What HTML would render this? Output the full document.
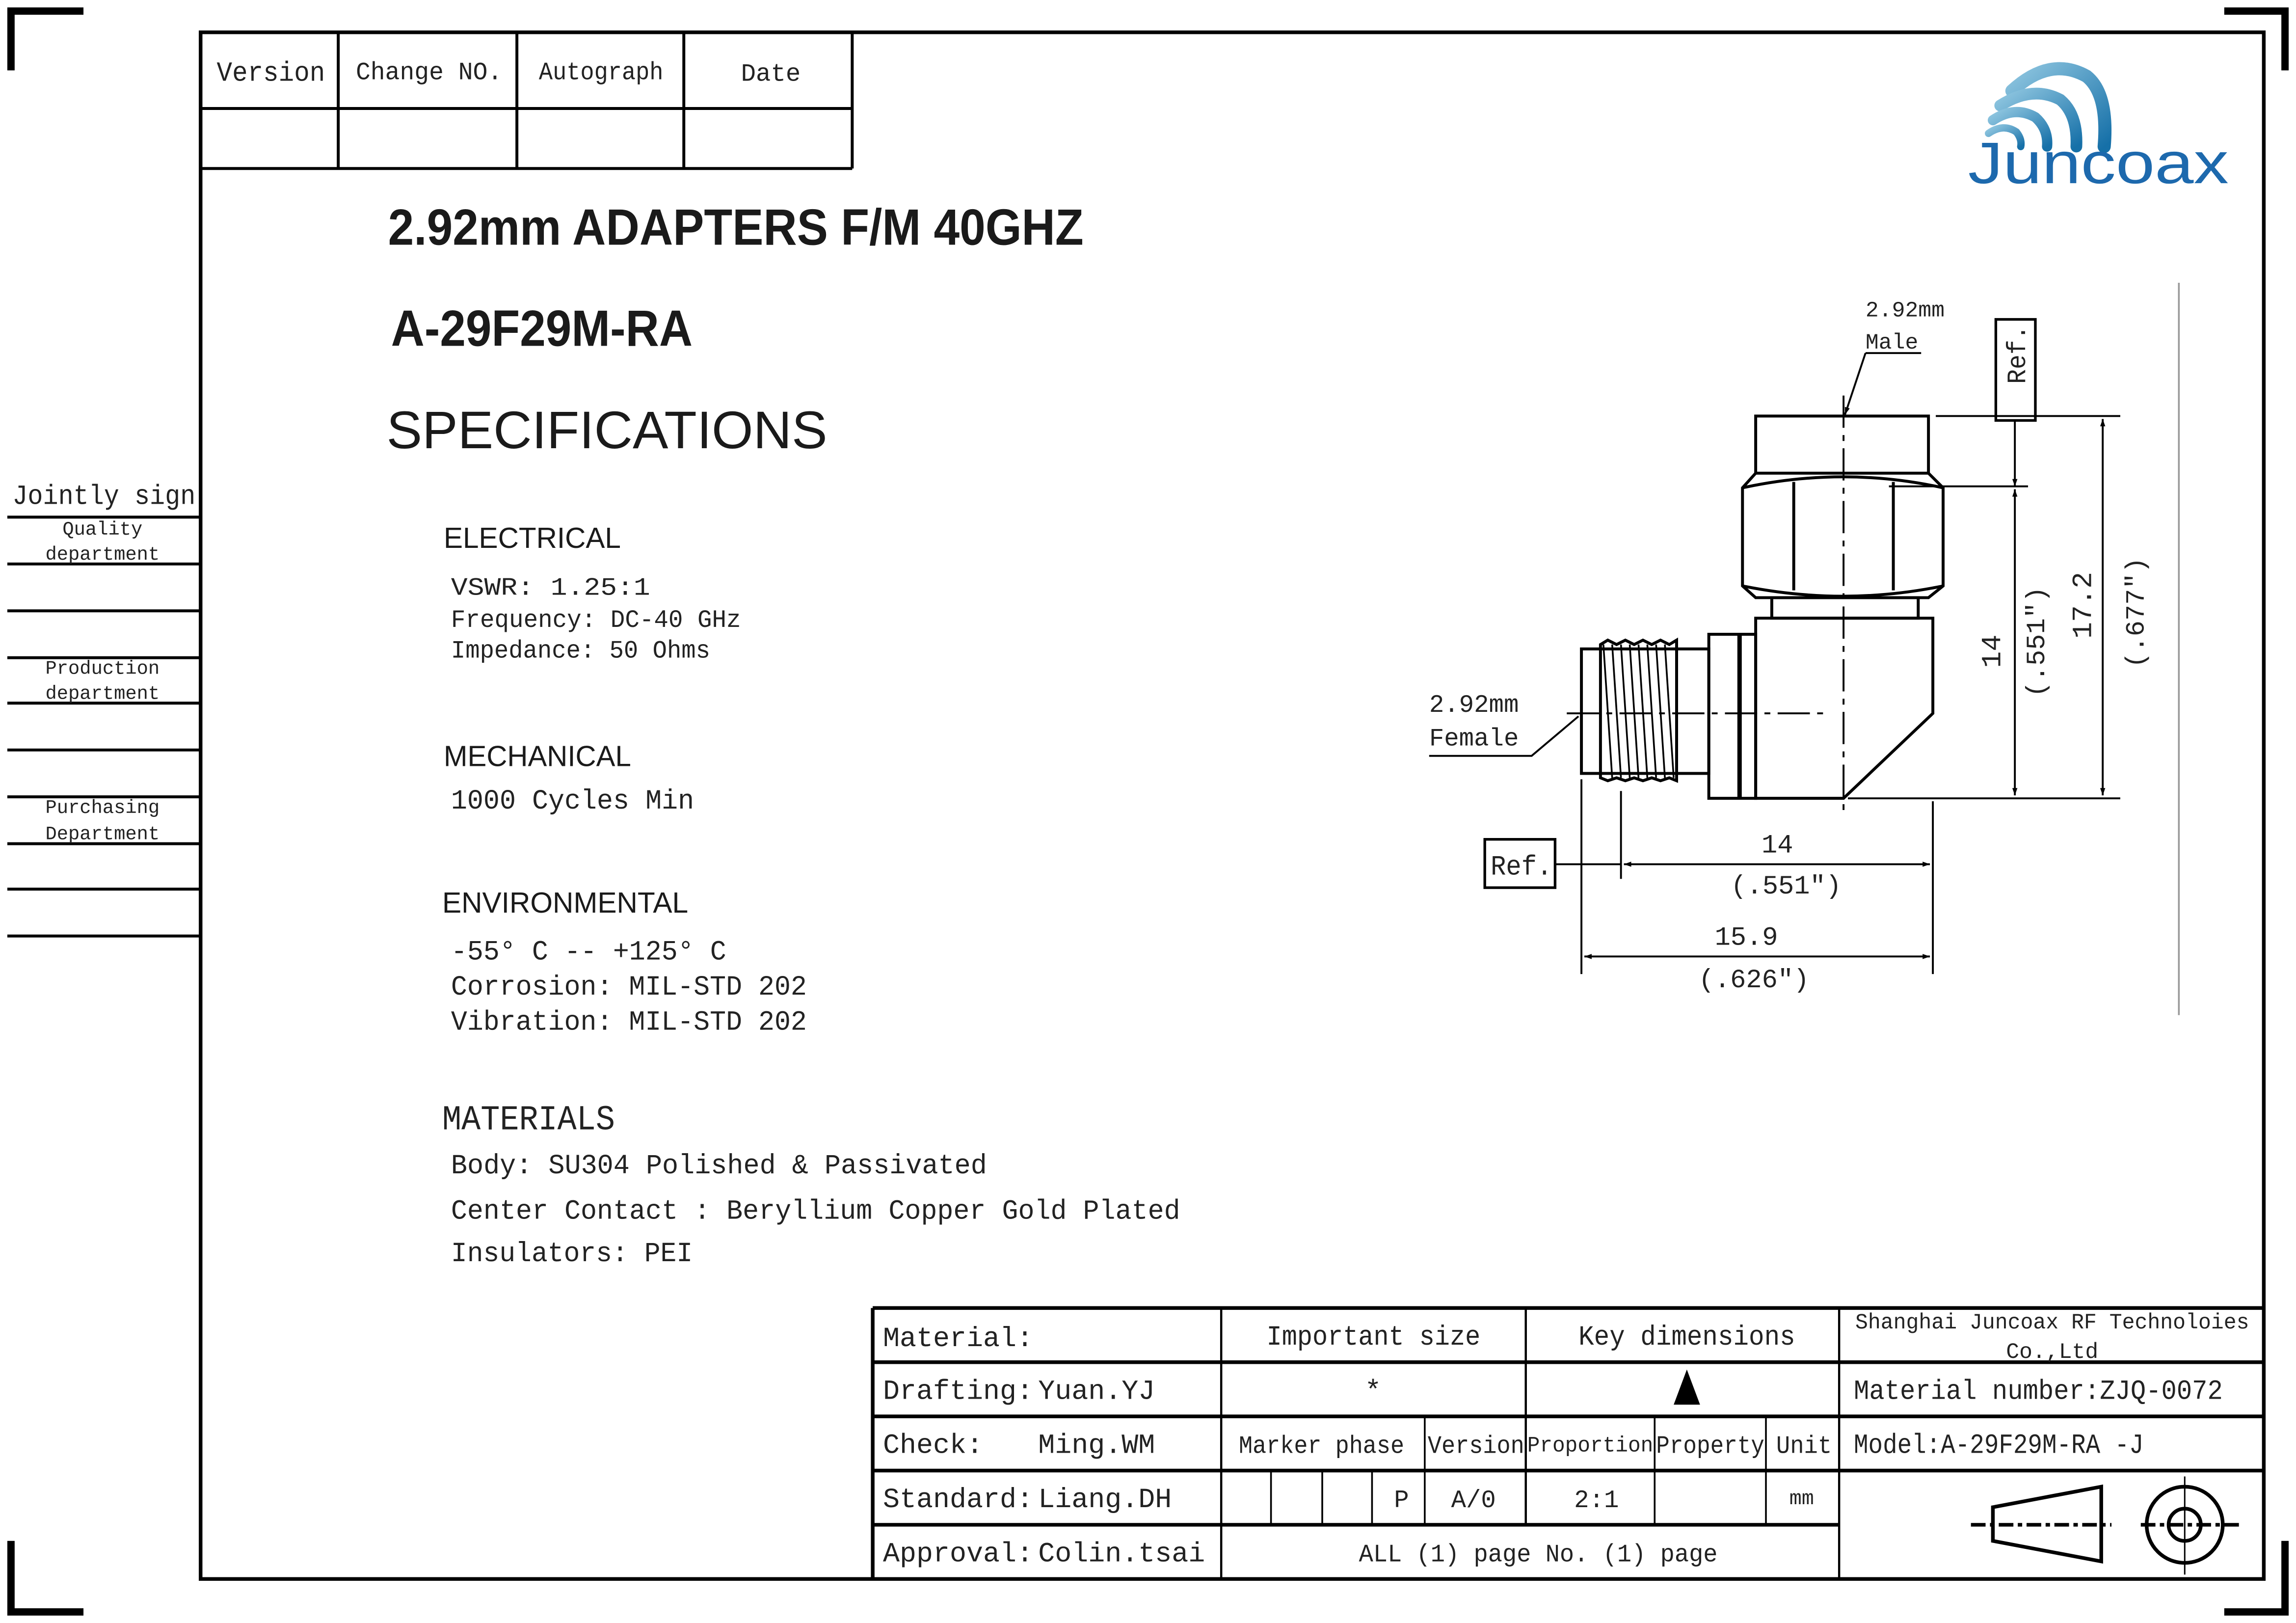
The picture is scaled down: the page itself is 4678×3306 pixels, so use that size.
<!DOCTYPE html>
<html><head><meta charset="utf-8"><style>
html,body{margin:0;padding:0;background:#fff}
svg{display:block}
.m{font-family:"Liberation Mono","Noto Serif CJK SC",monospace;fill:#222}
.s{font-family:"Liberation Sans","DejaVu Sans",sans-serif;fill:#1a1a1a}
</style></head><body>
<svg width="4678" height="3306" viewBox="0 0 1568 1108" xmlns="http://www.w3.org/2000/svg">
<rect width="1568" height="1108" fill="#fff"/>
<defs>
<marker id="a" viewBox="0 0 10 10" refX="10" refY="5" markerWidth="14" markerHeight="5" markerUnits="userSpaceOnUse" orient="auto-start-reverse"><path d="M0,1.5 L10,5 L0,8.5z" fill="#000"/></marker>
<linearGradient id="g" x1="0" y1="0" x2="1" y2="1"><stop offset="0" stop-color="#8fc6e0"/><stop offset="1" stop-color="#1670a8"/></linearGradient>
</defs>
<g stroke="#000" stroke-width="5" fill="none">
<path d="M57,7.5 H7.5 V48"/><path d="M1519,7.5 H1560.5 V48"/>
<path d="M7.5,1052 V1100.5 H57"/><path d="M1560.5,1052 V1100.5 H1519"/>
</g>
<rect x="137" y="22" width="1409" height="1056" fill="none" stroke="#000" stroke-width="2.5"/>
<g stroke="#000" stroke-width="2" fill="none">
<path d="M137,74 H582 M137,115 H582 M582,22 V115 M231,22 V115 M353,22 V115 M467,22 V115"/>
</g>
<g class="m" font-size="17">
<text x="148" y="55" font-size="19" textLength="74" lengthAdjust="spacingAndGlyphs">Version</text>
<text x="243" y="54" textLength="100" lengthAdjust="spacingAndGlyphs">Change   NO.</text>
<text x="368" y="54" textLength="85" lengthAdjust="spacingAndGlyphs">Autograph</text>
<text x="506" y="55">Date</text>
</g>
<!-- logo -->
<g fill="none" stroke="url(#g)" stroke-linecap="round">
<path d="M1374,62 Q1400,38 1425,52 Q1440,64 1437,100" stroke-width="9"/>
<path d="M1366,72 Q1388,58 1407,68 Q1419,78 1418,100" stroke-width="8"/>
<path d="M1361,82 Q1376,72 1390,80 Q1399,88 1398,100" stroke-width="7"/>
<path d="M1358,91 Q1368,84 1377,90 Q1381,95 1380,100" stroke-width="5"/>
</g>
<text x="1344" y="125" font-family="Liberation Sans,sans-serif" font-size="40" fill="#1d69ad" textLength="178" lengthAdjust="spacingAndGlyphs">Juncoax</text>
<g class="s" font-weight="bold">
<text x="265" y="167" font-size="35" textLength="475" lengthAdjust="spacingAndGlyphs">2.92mm ADAPTERS  F/M 40GHZ</text>
<text x="267" y="236" font-size="35" textLength="206" lengthAdjust="spacingAndGlyphs">A-29F29M-RA</text>
</g>
<text class="s" x="264" y="306" font-size="36" textLength="301" lengthAdjust="spacingAndGlyphs">SPECIFICATIONS</text>
<g class="s" font-size="20">
<text x="303" y="374" textLength="121" lengthAdjust="spacingAndGlyphs">ELECTRICAL</text>
<text x="303" y="523" textLength="128" lengthAdjust="spacingAndGlyphs">MECHANICAL</text>
<text x="302" y="623" textLength="168" lengthAdjust="spacingAndGlyphs">ENVIRONMENTAL</text>
</g>
<text class="m" x="302" y="771" font-size="24" textLength="118" lengthAdjust="spacingAndGlyphs">MATERIALS</text>
<g class="m" font-size="17">
<text x="308" y="406" textLength="136" lengthAdjust="spacingAndGlyphs">VSWR:  1.25:1</text>
<text x="308" y="428" textLength="198" lengthAdjust="spacingAndGlyphs">Frequency: DC-40 GHz</text>
<text x="308" y="449" textLength="177" lengthAdjust="spacingAndGlyphs">Impedance: 50 Ohms</text>
<text x="308" y="552" font-size="19" textLength="166" lengthAdjust="spacingAndGlyphs">1000 Cycles Min</text>
<text x="308" y="655" font-size="19" textLength="188" lengthAdjust="spacingAndGlyphs">-55° C -- +125° C</text>
<text x="308" y="679" font-size="19" textLength="243" lengthAdjust="spacingAndGlyphs">Corrosion: MIL-STD 202</text>
<text x="308" y="703" font-size="19" textLength="243" lengthAdjust="spacingAndGlyphs">Vibration: MIL-STD 202</text>
<text x="308" y="801" font-size="19" textLength="366" lengthAdjust="spacingAndGlyphs">Body: SU304 Polished &amp; Passivated</text>
<text x="308" y="832" font-size="19" textLength="498" lengthAdjust="spacingAndGlyphs">Center Contact : Beryllium Copper Gold Plated</text>
<text x="308" y="861" font-size="19" textLength="165" lengthAdjust="spacingAndGlyphs">Insulators: PEI</text>
</g>
<g stroke="#000" stroke-width="2">
<path d="M5,353H137 M5,385H137 M5,417H137 M5,449H137 M5,480H137 M5,512H137 M5,544H137 M5,576H137 M5,607H137 M5,639H137"/>
</g>
<g class="m" font-size="13" text-anchor="middle">
<text x="71" y="344" font-size="19" textLength="125" lengthAdjust="spacingAndGlyphs">Jointly sign</text>
<text x="70" y="365">Quality</text><text x="70" y="382">department</text>
<text x="70" y="460">Production</text><text x="70" y="477">department</text>
<text x="70" y="555">Purchasing</text><text x="70" y="573">Department</text>
</g>
<g stroke="#000" fill="none">
<path d="M596,893 H1546 M596,893 V1078" stroke-width="2.5"/>
<path d="M596,930H1546 M596,967H1546 M596,1004H1546 M596,1041H1256" stroke-width="2.5"/>
<path d="M834,893V1078 M1042,893V1041 M1256,893V1078" stroke-width="1.5"/>
<path d="M973,967V1041 M1130,967V1041 M1206,967V1041 M868,1004V1041 M903,1004V1041 M937,1004V1041" stroke-width="1.2"/>
</g>
<g class="m" font-size="19">
<text x="603" y="919">Material:</text>
<text x="865" y="918" textLength="146" lengthAdjust="spacingAndGlyphs">Important size</text>
<text x="1078" y="918" textLength="148" lengthAdjust="spacingAndGlyphs">Key dimensions</text>
<text x="603" y="955">Drafting:</text><text x="709" y="955">Yuan.YJ</text>
<text x="932" y="955">*</text>
<text x="603" y="992">Check:</text><text x="709" y="992">Ming.WM</text>
<text x="846" y="992" font-size="17" textLength="113" lengthAdjust="spacingAndGlyphs">Marker phase</text>
<text x="975" y="992" font-size="17" textLength="66" lengthAdjust="spacingAndGlyphs">Version</text>
<text x="1043" y="991" font-size="15" textLength="86" lengthAdjust="spacingAndGlyphs">Proportion</text>
<text x="1131" y="992" font-size="17" textLength="74" lengthAdjust="spacingAndGlyphs">Property</text>
<text x="1213" y="992" font-size="17" textLength="38" lengthAdjust="spacingAndGlyphs">Unit</text>
<text x="603" y="1029">Standard:</text><text x="709" y="1029">Liang.DH</text>
<text x="952" y="1029" font-size="17">P</text>
<text x="991" y="1029" font-size="17">A/0</text>
<text x="1075" y="1029" font-size="17">2:1</text>
<text x="1222" y="1027" font-size="14">mm</text>
<text x="603" y="1066">Approval:</text><text x="709" y="1066">Colin.tsai</text>
<text x="928" y="1066" font-size="17" textLength="245" lengthAdjust="spacingAndGlyphs">ALL (1) page  No. (1) page</text>
<text x="1267" y="907" font-size="15" textLength="269" lengthAdjust="spacingAndGlyphs">Shanghai Juncoax RF Technoloies</text>
<text x="1370" y="927" font-size="15">Co.,Ltd</text>
<text x="1266" y="955" textLength="252" lengthAdjust="spacingAndGlyphs">Material number:ZJQ-0072</text>
<text x="1266" y="992" textLength="198" lengthAdjust="spacingAndGlyphs">Model:A-29F29M-RA -J</text>
</g>
<path d="M1152,935 L1143,959 L1161,959 Z" fill="#000"/>
<g stroke="#000" fill="none">
<path d="M1361,1029 L1435,1015 L1435,1066 L1361,1052 Z" stroke-width="2.5"/>
<circle cx="1492" cy="1041" r="26" stroke-width="2.5"/><circle cx="1492" cy="1041" r="11" stroke-width="2.5"/>
<path d="M1346,1041 H1442 M1462,1041 H1530" stroke-width="2.5" stroke-dasharray="10,3,3,3"/>
<path d="M1492,1008 V1075" stroke-width="1"/>
</g>
<path d="M1488,193 V693" stroke="#999" stroke-width="1.2"/>
<g stroke="#000" stroke-width="2" fill="none">
<rect x="1199" y="284" width="118" height="39"/>
<path d="M1199,323 L1190,333 V400 L1199,408 H1317 L1327,400 V333 L1317,323"/>
<path d="M1190,333 Q1259,318 1327,333 M1225,329 V403 M1293,329 V403 M1190,400 Q1259,414 1327,400"/>
<rect x="1210" y="408" width="100" height="14"/>
<path d="M1199,422 H1320 V487 L1259,545 H1199 Z"/>
<rect x="1167" y="433" width="32" height="112"/><path d="M1188,433 V545" stroke-width="3"/>
<rect x="1080" y="443" width="87" height="85"/>
<path d="M1093,440 L1098,437 L1104,440 L1110,437 L1116,440 L1122,437 L1128,440 L1134,437 L1140,440 L1145,437 V533 L1140,531 L1134,533 L1128,531 L1122,533 L1116,531 L1110,533 L1104,531 L1098,533 L1093,531 Z"/>
<path d="M1095,440 L1101,531 M1101,440 L1107,531 M1107,440 L1113,531 M1113,440 L1119,531 M1119,440 L1125,531 M1125,440 L1131,531 M1131,440 L1137,531 M1137,440 L1143,531" stroke-width="1.2"/>
</g>
<g stroke="#000" stroke-width="1.3" fill="none">
<path d="M1259,270 V555" stroke-dasharray="22,5,4,5"/>
<path d="M1070,487 H1250" stroke-dasharray="22,5,4,5"/>
<path d="M1322,284 H1448 M1290,332 H1385 M1262,545 H1448"/>
<path d="M1080,532 V665 M1107,540 V600 M1320,547 V665"/>
<path d="M1376,287 V332" marker-end="url(#a)"/>
<path d="M1376,334 V543" marker-start="url(#a)" marker-end="url(#a)"/>
<path d="M1436,286 V543" marker-start="url(#a)" marker-end="url(#a)"/>
<path d="M1062,590 H1107"/>
<path d="M1109,590 H1318" marker-start="url(#a)" marker-end="url(#a)"/>
<path d="M1082,653 H1318" marker-start="url(#a)" marker-end="url(#a)"/>
<path d="M976,516 H1046 L1078,489"/>
<path d="M1274,241 H1312 M1274,241 L1260,283" marker-end="url(#a)"/>
<rect x="1363" y="218" width="27" height="69" stroke-width="1.8"/>
<rect x="1014" y="573" width="48" height="33" stroke-width="1.8"/>
</g>
<g class="m" font-size="17" fill="#333">
<text x="976" y="486">2.92mm</text><text x="976" y="509">Female</text>
<text x="1274" y="216" font-size="15">2.92mm</text><text x="1274" y="238" font-size="15">Male</text>
<text x="1018" y="597" font-size="19" textLength="42" lengthAdjust="spacingAndGlyphs">Ref.</text>
<text transform="translate(1383,262) rotate(-90)" font-size="18" textLength="40" lengthAdjust="spacingAndGlyphs">Ref.</text>
<text x="1203" y="582" font-size="18">14</text>
<text x="1182" y="610" font-size="18">(.551")</text>
<text x="1171" y="645" font-size="18">15.9</text>
<text x="1160" y="674" font-size="18">(.626")</text>
<text transform="translate(1366,456) rotate(-90)" font-size="19">14</text>
<text transform="translate(1396,476) rotate(-90)" font-size="18">(.551")</text>
<text transform="translate(1428,436) rotate(-90)" font-size="19">17.2</text>
<text transform="translate(1464,456) rotate(-90)" font-size="18">(.677")</text>
</g>
</svg>
</body></html>
